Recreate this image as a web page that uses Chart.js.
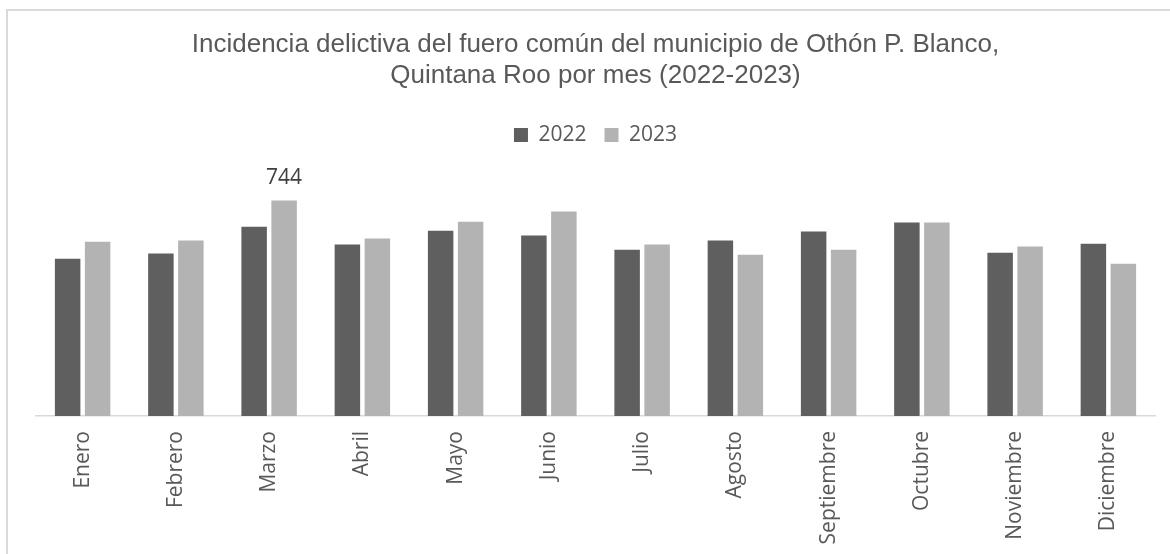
<!DOCTYPE html>
<html>
<head>
<meta charset="utf-8">
<script src="https://cdn.jsdelivr.net/npm/chart.js@4/dist/chart.umd.min.js"></script>
<style>
  html, body { margin: 0; padding: 0; background: #fff; overflow: hidden; }
  #wrap { position: relative; width: 1170px; height: 554px; }
  #frame { position: absolute; left: 6px; top: 9px; width: 1200px; height: 600px;
           border: 2px solid #d9d9d9; box-sizing: border-box; }
  canvas { position: absolute; left: 0; top: 0; }
</style>
</head>
<body>
<div id="wrap">
  <div id="frame"></div>
  <canvas id="chart" width="1170" height="554"></canvas>
</div>
<script>
const months = ['Enero', 'Febrero', 'Marzo', 'Abril', 'Mayo', 'Junio', 'Julio',
                'Agosto', 'Septiembre', 'Octubre', 'Noviembre', 'Diciembre'];
const values2022 = [543, 561, 654, 592, 640, 623, 574, 606, 637, 668, 564, 595];
const values2023 = [602, 606, 744, 613, 671, 706, 592, 557, 574, 668, 585, 526];
// [dataset, index] pairs that carry a value label
const labelled = [[1, 2]];

const valueLabels = {
  id: 'valueLabels',
  afterDatasetsDraw(chart) {
    const ctx = chart.ctx;
    ctx.save();
    ctx.font = '21px "Open Sans"';
    ctx.fillStyle = '#404040';
    ctx.textAlign = 'center';
    ctx.textBaseline = 'bottom';
    labelled.forEach(([d, i]) => {
      const bar = chart.getDatasetMeta(d).data[i];
      ctx.fillText(chart.data.datasets[d].data[i], bar.x, bar.y - 12);
    });
    ctx.restore();
  }
};

new Chart(document.getElementById('chart'), {
  type: 'bar',
  data: {
    labels: months,
    datasets: [
      { label: '2022', data: values2022, backgroundColor: '#5f5f5f' },
      { label: '2023', data: values2023, backgroundColor: '#b3b3b3' }
    ]
  },
  options: {
    responsive: false,
    animation: false,
    categoryPercentage: 0.643,
    barPercentage: 0.85,
    layout: { padding: { left: 36, right: 15, top: 0, bottom: 0 } },
    plugins: {
      title: {
        display: true,
        text: ['Incidencia delictiva del fuero común del municipio de Othón P. Blanco,',
               'Quintana Roo por mes (2022-2023)'],
        color: '#595959',
        font: { family: '"Liberation Sans", Arial', size: 26, weight: 'normal', lineHeight: 1.2 },
        padding: { top: 29, bottom: 15 }
      },
      legend: {
        labels: {
          color: '#595959',
          font: { family: '"Open Sans"', size: 21 },
          boxWidth: 14, boxHeight: 14, padding: 18
        }
      },
      tooltip: { enabled: false }
    },
    scales: {
      x: {
        grid: { display: false, drawTicks: false },
        border: { color: '#d9d9d9', width: 1.5 },
        ticks: {
          color: '#595959', font: { family: '"Open Sans"', size: 21 },
          maxRotation: 90, minRotation: 90, padding: 15, autoSkip: false
        },
        afterFit(scale) { scale.height = 138; }
      },
      y: { display: false, min: 0, max: 900 }
    }
  },
  plugins: [valueLabels]
});
</script>
</body>
</html>
